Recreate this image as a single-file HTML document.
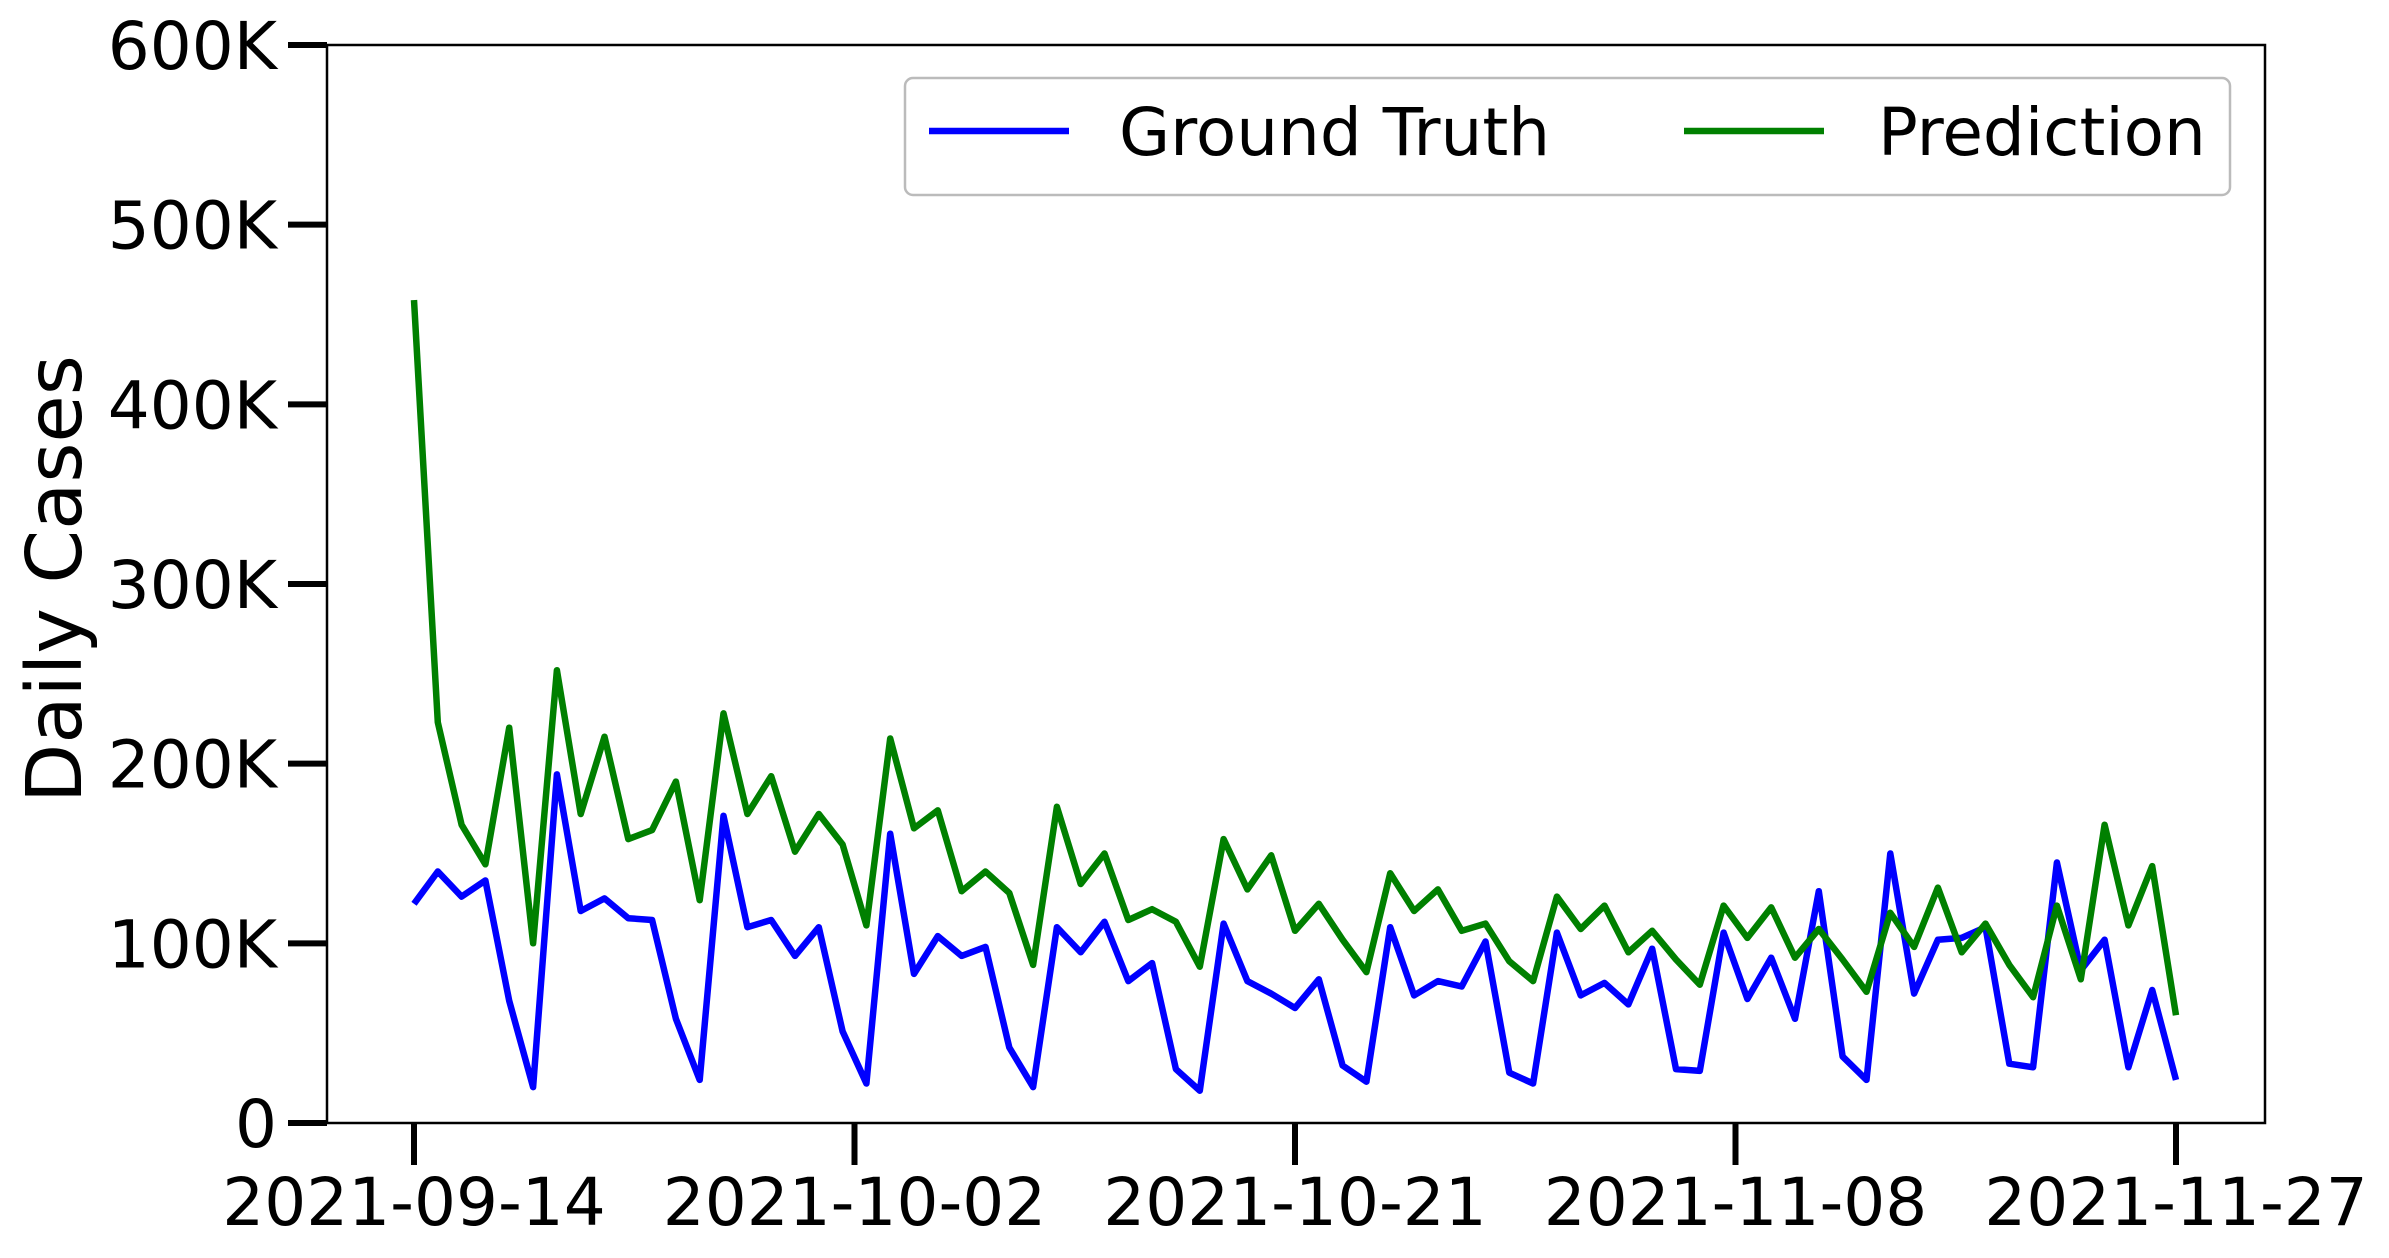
<!DOCTYPE html>
<html>
<head>
<meta charset="utf-8">
<style>
html,body{margin:0;padding:0;background:#fff;}
svg{display:block;}
text{font-family:"DejaVu Sans","Liberation Sans",sans-serif;fill:#000;}
</style>
</head>
<body>
<svg id="chart" width="2389" height="1258" viewBox="0 0 2389 1258" xmlns="http://www.w3.org/2000/svg">
  <rect x="0" y="0" width="2389" height="1258" fill="#fff"/>
  <g id="plot"></g>
  <g id="axes"></g>
  <text transform="translate(81,579) rotate(-90)" text-anchor="middle" font-size="77">Daily Cases</text>
  <g>
    <rect x="905" y="78" width="1325" height="117" rx="8" ry="8" fill="#fff" fill-opacity="0.8" stroke="#bbb" stroke-width="2.5"/>
    <g>
      <line x1="929" y1="131" x2="1069" y2="131" stroke="#0000ff" stroke-width="6.5"/>
      <text x="1119" y="155" font-size="66">Ground Truth</text>
    </g>
    <g>
      <line x1="1684" y1="131" x2="1824" y2="131" stroke="#008000" stroke-width="6.5"/>
      <text x="1878" y="155" font-size="66">Prediction</text>
    </g>
  </g>
</svg>
<script>
const groundTruth = [122,140,126,135,68,20,194,118,125,114,113,58,24,171,109,113,93,109,51,22,161,83,104,93,98,42,20,109,95,112,79,89,30,18,111,79,72,64,80,32,23,109,71,79,76,101,28,22,106,71,78,66,97,30,29,106,69,92,58,129,37,24,150,72,102,103,109,33,31,145,85,102,31,74,24];
const prediction = [458,223,166,144,220,100,252,172,215,158,163,190,124,228,172,193,151,172,155,110,214,164,174,129,140,128,88,176,133,150,113,119,112,87,158,130,149,107,122,102,84,139,118,130,107,111,90,79,126,108,121,95,107,91,77,121,103,120,92,108,91,73,117,98,131,95,111,88,70,121,80,166,110,143,60];
const xTickDays = [0,18.5,37,55.5,74];
const xTickLabels = ["2021-09-14","2021-10-02","2021-10-21","2021-11-08","2021-11-27"];
const yTickValues = [0,100,200,300,400,500,600];
const yTickLabels = ["0","100K","200K","300K","400K","500K","600K"];

const NS = "http://www.w3.org/2000/svg";
const L = 327, R = 2265, T = 45, B = 1123;
const X0 = 414, X1 = 2176, DAYS = 74, YMAX = 600;
function xScale(d){ return X0 + (X1 - X0) * d / DAYS; }
function yScale(v){ return B - (B - T) * v / YMAX; }

const plot = document.getElementById('plot');
const axes = document.getElementById('axes');

function series(vals, color, name){
  const p = document.createElementNS(NS,'polyline');
  p.setAttribute('points', vals.map((v,i)=>xScale(i).toFixed(1)+','+yScale(v).toFixed(1)).join(' '));
  p.setAttribute('fill','none');
  p.setAttribute('stroke',color);
  p.setAttribute('stroke-width','6.5');
  p.setAttribute('stroke-linejoin','round');
  
  
  plot.appendChild(p);
}
series(groundTruth,'#0000ff','ground-truth-line');
series(prediction,'#008000','prediction-line');

const frame = document.createElementNS(NS,'rect');
frame.setAttribute('x',L); frame.setAttribute('y',T);
frame.setAttribute('width',R-L); frame.setAttribute('height',B-T);
frame.setAttribute('fill','none'); frame.setAttribute('stroke','#000'); frame.setAttribute('stroke-width','2.5');


axes.appendChild(frame);

yTickValues.forEach((v,i)=>{
  const y = yScale(v);
  const t = document.createElementNS(NS,'line');
  t.setAttribute('x1',L-39); t.setAttribute('x2',L); t.setAttribute('y1',y); t.setAttribute('y2',y);
  t.setAttribute('stroke','#000'); t.setAttribute('stroke-width','6');
  
  
  axes.appendChild(t);
  const tx = document.createElementNS(NS,'text');
  tx.setAttribute('x',277); tx.setAttribute('y',y+24);
  tx.setAttribute('text-anchor','end'); tx.setAttribute('font-size','66');
  tx.textContent = yTickLabels[i];
  
  
  axes.appendChild(tx);
});

xTickDays.forEach((d,i)=>{
  const x = xScale(d);
  const t = document.createElementNS(NS,'line');
  t.setAttribute('x1',x); t.setAttribute('x2',x); t.setAttribute('y1',B); t.setAttribute('y2',B+42);
  t.setAttribute('stroke','#000'); t.setAttribute('stroke-width','6');
  
  
  axes.appendChild(t);
  const tx = document.createElementNS(NS,'text');
  tx.setAttribute('x',x); tx.setAttribute('y',1225);
  tx.setAttribute('text-anchor','middle'); tx.setAttribute('font-size','66');
  tx.textContent = xTickLabels[i];
  
  
  axes.appendChild(tx);
});
</script>
</body>
</html>
